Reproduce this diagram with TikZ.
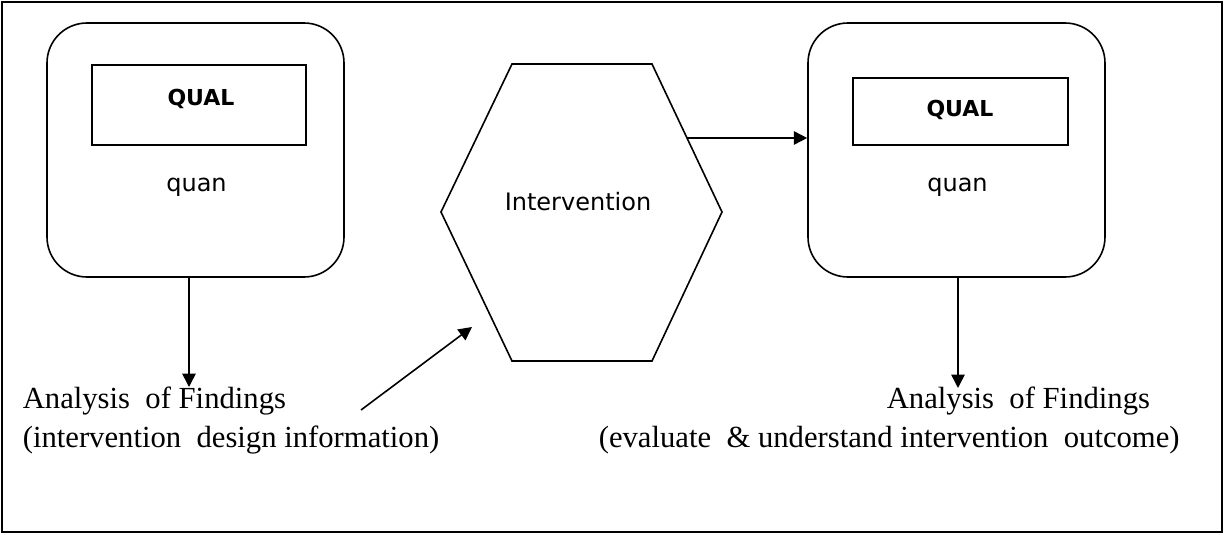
\documentclass[tikz,border=0pt]{standalone}
\usepackage{fontspec}
\setmainfont{Liberation Serif}
\newfontfamily\uisans{DejaVu Sans}
\usetikzlibrary{arrows.meta,calc}

\begin{document}
\begin{tikzpicture}[x=0.75pt,y=-0.75pt,line width=1.2pt,
  phase/.style={draw, rounded corners=30pt, minimum width=222.75pt,
                minimum height=190.5pt, inner sep=0pt},
  qualbox/.style={draw, inner sep=0pt},
  qualtxt/.style={font=\uisans\bfseries\fontsize{16.5}{20}\selectfont,
                  inner sep=0pt, anchor=base},
  sanstxt/.style={font=\uisans\fontsize{18}{20}\selectfont,
                  inner sep=0pt, anchor=base},
  findtxt/.style={font=\fontsize{23}{26}\selectfont,
                  inner sep=0pt, anchor=base west},
  flow/.style={-{Triangle[length=10pt,width=10pt]}}]

  \useasboundingbox (0,0) rectangle (1225,535);
  % outer frame
  \draw (2,2) rectangle (1222,532);

  % first phase: QUAL + quan
  \node[phase] (boxL) at (195.5,150) {};
  \node[qualbox, minimum width=160.5pt, minimum height=60pt] (qualL) at (199,105) {};
  \node[qualtxt] (qualLtxt) at (201,105) {QUAL};
  \node[sanstxt] (quanL) at (196.5,191) {quan};

  % second phase: QUAL + quan
  \node[phase] (boxR) at (956.5,150) {};
  \node[qualbox, minimum width=161.25pt, minimum height=50.25pt] (qualR) at (960.5,111.5) {};
  \node[qualtxt] (qualRtxt) at (960,117) {QUAL};
  \node[sanstxt] (quanR) at (957.5,191) {quan};

  % intervention hexagon
  \coordinate (hexTL) at (512,64);
  \coordinate (hexTR) at (652,64);
  \coordinate (hexR)  at (722,212);
  \coordinate (hexBR) at (652,361);
  \coordinate (hexBL) at (512,361);
  \coordinate (hexL)  at (441,212);
  \draw (hexTL) -- (hexTR) -- (hexR) -- (hexBR) -- (hexBL) -- (hexL) -- cycle;
  \node[sanstxt] (interv) at (578,210) {Intervention};

  % findings texts
  \node[findtxt] (findL1) at (22,408) {Analysis\ \ of Findings};
  \node[findtxt] (findL2) at (22,447) {(intervention\ \ design information)};
  \node[findtxt] (findR1) at (886,408) {Analysis\ \ of Findings};
  \node[findtxt] (findR2) at (598,447) {(evaluate\ \ \& understand intervention\ \ outcome)};

  % connectors
  \coordinate (tipL) at (189,387);
  \draw[flow] (tipL |- boxL.south) -- (tipL);
  \coordinate (tipR) at (958,388);
  \draw[flow] (tipR |- boxR.south) -- (tipR);
  \coordinate (hexE) at ($(hexTR)!0.5!(hexR)$);
  \draw[flow] (hexE) -- (hexE -| boxR.west);
  \coordinate (diagS) at (361,410);
  \coordinate (diagT) at (472,327);
  \draw[flow] (diagS) -- (diagT);
\end{tikzpicture}
\end{document}
